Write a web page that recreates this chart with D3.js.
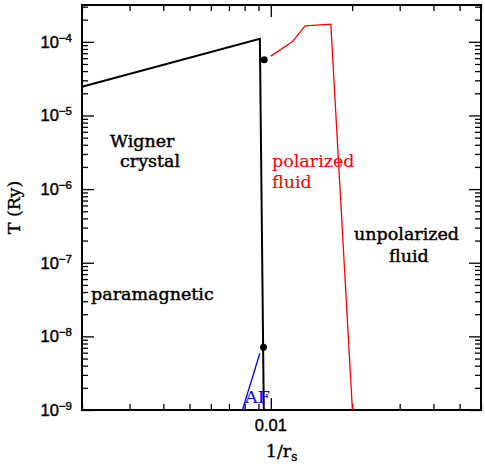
<!DOCTYPE html>
<html>
<head>
<meta charset="utf-8">
<script src="https://cdn.jsdelivr.net/npm/d3@7"></script>
<style>
  body { margin: 0; background: #fff; }
  .lbl { font-family: "DejaVu Serif", serif; font-size: 17.5px; stroke-width: 0.35px; }
  .tlbl { font-family: "Liberation Sans", Arial, sans-serif; font-size: 16.5px; stroke: #000; stroke-width: 0.4px; }
  .tick text { display: none; }
</style>
</head>
<body>
<div id="chart"></div>
<script>
// axis ranges
var xDomain = [0.002, 0.06];
var yDomain = [1e-9, Math.pow(10, -3.5)];

// tick values
var xMajor = [0.01];
var xMinor = [0.002, 0.003, 0.004, 0.005, 0.006, 0.007, 0.008, 0.009, 0.02, 0.03, 0.04, 0.05, 0.06];
var yMajor = [1e-9, 1e-8, 1e-7, 1e-6, 1e-5, 1e-4];
var yMinor = [];
yMajor.forEach(function (d) { for (var k = 2; k <= 9; k++) if (d * k < yDomain[1]) yMinor.push(d * k); });
var yExp = ["-9", "-8", "-7", "-6", "-5", "-4"];

// Wigner crystal boundary (black)
var crystalX = [0.002, 0.00911, 0.00942];
var crystalT = [2.45e-5, 1.1e-4, 1e-9];
// polarized fluid boundary (red)
var polX = [0.01, 0.0120, 0.0134, 0.01668, 0.02005];
var polT = [6.4e-5, 1.0e-4, 1.65e-4, 1.74e-4, 1e-9];
// antiferromagnetic boundary (blue)
var afX = [0.00785, 0.00911];
var afT = [1e-9, 5.9e-9];
// critical points
var dotX = [0.00945, 0.0094];
var dotT = [5.7e-5, 7.1e-9];

var width = 485, height = 466;
var m = {top: 5, right: 4, bottom: 56, left: 82};
var w = width - m.left - m.right, h = height - m.top - m.bottom;

var svg = d3.select("#chart").append("svg").attr("width", width).attr("height", height);
var g = svg.append("g").attr("transform", "translate(" + m.left + "," + m.top + ")");

var x = d3.scaleLog().domain(xDomain).range([0, w]);
var y = d3.scaleLog().domain(yDomain).range([h, 0]);

function styleAxis(sel) {
    sel.select(".domain").remove();
    sel.selectAll("line").attr("stroke", "#000").attr("stroke-width", 1.3);
}

// ticks, all pointing inward
g.append("g").attr("transform", "translate(0," + h + ")").call(d3.axisBottom(x).tickValues(xMajor).tickSize(-12)).call(styleAxis);
g.append("g").attr("transform", "translate(0," + h + ")").call(d3.axisBottom(x).tickValues(xMinor).tickSize(-6)).call(styleAxis);
g.append("g").call(d3.axisTop(x).tickValues(xMajor).tickSize(-12)).call(styleAxis);
g.append("g").call(d3.axisTop(x).tickValues(xMinor).tickSize(-6)).call(styleAxis);
g.append("g").call(d3.axisLeft(y).tickValues(yMajor).tickSize(-12)).call(styleAxis);
g.append("g").call(d3.axisLeft(y).tickValues(yMinor).tickSize(-6)).call(styleAxis);
g.append("g").attr("transform", "translate(" + w + ",0)").call(d3.axisRight(y).tickValues(yMajor).tickSize(-12)).call(styleAxis);
g.append("g").attr("transform", "translate(" + w + ",0)").call(d3.axisRight(y).tickValues(yMinor).tickSize(-6)).call(styleAxis);

// frame
g.append("rect").attr("width", w).attr("height", h)
    .attr("fill", "none").attr("stroke", "#000").attr("stroke-width", 2);

// y tick labels 10^n
yMajor.forEach(function (d, i) {
    var t = g.append("text").attr("class", "tlbl")
        .attr("x", -10).attr("y", y(d) + 6)
        .attr("text-anchor", "end");
    t.append("tspan").text("10");
    t.append("tspan").attr("dy", -6).attr("font-size", 11.5).text(yExp[i].replace("-", "\u2212"));
});

// x tick label
g.append("text").attr("class", "tlbl").attr("x", x(0.01)).attr("y", h + 21)
    .attr("text-anchor", "middle").text("0.01");

// axis titles
var xt = g.append("text").attr("class", "lbl").attr("stroke", "#000")
    .attr("x", x(0.01) - 5).attr("y", h + 47);
xt.append("tspan").text("1/r");
xt.append("tspan").attr("dy", 4).attr("font-size", 12).text("s");

svg.append("text").attr("class", "lbl").attr("stroke", "#000")
    .attr("transform", "translate(20," + (m.top + h / 2) + ") rotate(-90)")
    .attr("text-anchor", "middle").text("T (Ry)");

var line = d3.line().x(function (d) { return x(d[0]); }).y(function (d) { return y(d[1]); });

g.append("path").datum(d3.zip(crystalX, crystalT)).attr("d", line)
    .attr("fill", "none").attr("stroke", "#000").attr("stroke-width", 2);
g.append("path").datum(d3.zip(polX, polT)).attr("d", line)
    .attr("fill", "none").attr("stroke", "#ff0000").attr("stroke-width", 1.3);
g.append("path").datum(d3.zip(afX, afT)).attr("d", line)
    .attr("fill", "none").attr("stroke", "#0000ff").attr("stroke-width", 1.3);

g.selectAll(".dot").data(d3.zip(dotX, dotT)).enter().append("circle")
    .attr("class", "dot")
    .attr("cx", function (d) { return x(d[0]); })
    .attr("cy", function (d) { return y(d[1]); })
    .attr("r", 3.5).attr("fill", "#000");

// region labels
function label(txt, px, py, color, sw) {
    svg.append("text").attr("class", "lbl").attr("x", px).attr("y", py)
        .attr("fill", color).attr("stroke", color).style("stroke-width", sw + "px").text(txt);
}
label("Wigner", 110, 147, "#000", 0.45);
label("crystal", 120, 167, "#000", 0.45);
label("polarized", 272, 167, "#ff0000", 0.1);
label("fluid", 272, 188, "#ff0000", 0.1);
label("unpolarized", 354, 240, "#000", 0.45);
label("fluid", 389, 262, "#000", 0.45);
label("paramagnetic", 91, 300, "#000", 0.45);
label("AF", 245, 403, "#0000ff", 0.1);
</script>
</body>
</html>
